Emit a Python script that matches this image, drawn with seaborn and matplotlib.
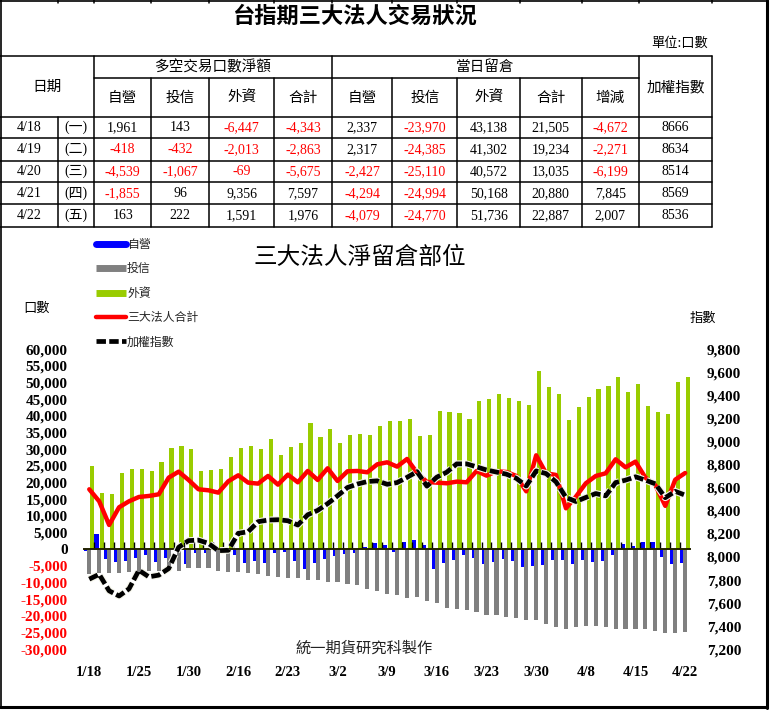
import numpy as np
import matplotlib
matplotlib.use('Agg')
import matplotlib.pyplot as plt
import matplotlib.patheffects as pe
from matplotlib.lines import Line2D
import seaborn as sns

# ---------------- table data ----------------
tbl_dates = ['4/18', '4/19', '4/20', '4/21', '4/22']
tbl_weekdays = ['(一)', '(二)', '(三)', '(四)', '(五)']
net_dealer = [1961, -418, -4539, -1855, 163]
net_trust = [143, -432, -1067, 96, 222]
net_foreign = [-6447, -2013, -69, 9356, 1591]
net_total = [-4343, -2863, -5675, 7597, 1976]
oi_dealer = [2337, 2317, -2427, -4294, -4079]
oi_trust = [-23970, -24385, -25110, -24994, -24770]
oi_foreign = [43138, 41302, 40572, 50168, 51736]
oi_total = [21505, 19234, 13035, 20880, 22887]
oi_change = [-4672, -2271, -6199, 7845, 2007]
tbl_taiex = [8666, 8634, 8514, 8569, 8536]

# ---------------- chart data (61 trading days) ----------------
x_labels = ['1/18', '1/25', '1/30', '2/16', '2/23', '3/2', '3/9', '3/16',
            '3/23', '3/30', '4/8', '4/15', '4/22']
dealer = [-500, 4700, -2900, -3800, -3500, -2700, -1700, -3800, -2600, -300,
          -4400, -1000, -1000, -700, -400, -1700, -4100, -3500, -4200, -1200,
          -900, -3500, -6000, -4200, -3000, -2000, -1500, -1200, 600, 1800,
          1400, -700, 2200, 2800, 1300, -6000, -4100, -3200, -1700, -2700,
          -4400, -3800, -2900, -3400, -5300, -5000, -4700, -3200, -3200, -4400,
          -3200, -3800, -3500, -1700, 1700, 900, 2337, 2317, -2427, -4294, -4079]
trust = [-7400, -7200, -7200, -7200, -6900, -6900, -6400, -6400, -5900, -6400,
         -5700, -5700, -5700, -6400, -6900, -6900, -7200, -7500, -7900, -8200,
         -8500, -8700, -9200, -9200, -9700, -9700, -10500, -10800, -11800, -12500,
         -13500, -13800, -14500, -14200, -15400, -16200, -17700, -18000, -18200, -18900,
         -19800, -19800, -20400, -20700, -21200, -21200, -22500, -23200, -24000, -23200,
         -22900, -22900, -23200, -24000, -24000, -24000, -23970, -24385, -25110, -24994, -24770]
foreign = [24900, 16800, 16500, 22800, 24100, 24100, 23400, 26100, 30300, 30900,
           30000, 23400, 23700, 24100, 27600, 30300, 30900, 30000, 33000, 28200,
           30600, 31800, 37800, 33600, 36000, 31800, 34200, 34500, 34200, 36900,
           38400, 38400, 39200, 33900, 34400, 41600, 41100, 40800, 39200, 44600,
           45200, 46500, 45500, 44600, 43200, 53600, 48600, 46500, 38700, 42600,
           45600, 48200, 48900, 51600, 47100, 49700, 43138, 41302, 40572, 50168, 51736]
total = [18000, 14400, 7300, 12600, 14400, 15700, 16000, 16500, 21500, 23300,
         20800, 18000, 17700, 17000, 20400, 22200, 20000, 19700, 22000, 19400,
         22400, 20100, 23500, 20800, 24300, 20500, 23400, 23500, 23100, 25500,
         26100, 24800, 27100, 23000, 20200, 20000, 19800, 20300, 20100, 23500,
         22100, 23400, 23200, 22000, 17400, 28200, 22800, 22300, 12300, 15800,
         19800, 22000, 22800, 27000, 24600, 26300, 21505, 19234, 13035, 20880, 22887]
taiex = [7808, 7850, 7707, 7662, 7724, 7885, 7828, 7843, 7900, 8084,
         8142, 8146, 8118, 8055, 8058, 8205, 8219, 8306, 8320, 8323,
         8314, 8277, 8366, 8404, 8462, 8530, 8602, 8632, 8654, 8660,
         8630, 8645, 8690, 8740, 8614, 8692, 8735, 8807, 8807, 8781,
         8754, 8736, 8718, 8682, 8615, 8746, 8723, 8651, 8516, 8481,
         8516, 8550, 8530, 8645, 8666, 8695, 8666, 8634, 8514, 8569, 8536]

series_names = ['自營', '投信', '外資', '三大法人合計', '加權指數']
c_blue, c_gray, c_green, c_red = '#0000FF', '#808080', '#99CC00', '#FF0000'

sns.set_theme(style='white')
CJK = ['Noto Sans CJK TC', 'DejaVu Sans']
plt.rcParams['font.family'] = CJK
plt.rcParams['axes.unicode_minus'] = False
SERIF = ['Liberation Serif', 'Noto Sans CJK TC']

W, H = 770, 712
fig = plt.figure(figsize=(W / 100, H / 100), dpi=100)
fig.patch.set_facecolor('white')

# overlay in pixel coordinates for frame, table and texts
ov = fig.add_axes([0, 0, 1, 1], zorder=0)
ov.set_xlim(0, W)
ov.set_ylim(H, 0)
ov.axis('off')

# outer frame
ov.plot([1, 1], [0, 708], color='black', lw=1.2)
ov.plot([0, 767], [0.8, 0.8], color='black', lw=1.2)
ov.plot([766.5, 766.5], [0, 708], color='black', lw=2.2)
ov.plot([0, 767], [707, 707], color='black', lw=2.2)

# ---------------- table ----------------
col_edges = [0, 57.5, 94.4, 151, 209, 274.3, 331.9, 392.3, 457.2, 520, 581.6, 639, 712]
row_edges = [56, 78.3, 116.7, 138.3, 160.7, 182.3, 204.3, 226.7]
lc = dict(color='black', lw=1.1)
ov.plot([0, 712], [row_edges[0]] * 2, **lc)
ov.plot([94.4, 639], [row_edges[1]] * 2, **lc)
for yy in row_edges[2:]:
    ov.plot([0, 712], [yy, yy], **lc)
for xx in col_edges[1:]:
    if xx == 57.5:
        ov.plot([xx, xx], [row_edges[2], row_edges[-1]], **lc)
    elif xx in (94.4, 331.9, 639, 712):
        ov.plot([xx, xx], [row_edges[0], row_edges[-1]], **lc)
    else:
        ov.plot([xx, xx], [row_edges[1], row_edges[-1]], **lc)
    ov.plot([xx, xx], [0, 3], **lc)

ov.text(355, 16, '台指期三大法人交易狀況', ha='center', va='center',
        fontsize=16, fontweight='bold', color='black')
ov.text(708, 43, '單位:口數', ha='right', va='center', fontsize=9.5, color='black')

hdr = dict(ha='center', va='center', fontsize=10.5, color='black')
ov.text(47.2, 87, '日期', **hdr)
ov.text(213, 67, '多空交易口數淨額', **hdr)
ov.text(485.5, 67, '當日留倉', **hdr)
ov.text(675.5, 87, '加權指數', **hdr)
sub = ['自營', '投信', '外資', '合計', '自營', '投信', '外資', '合計', '增減']
for k, s in enumerate(sub):
    cx = (col_edges[k + 2] + col_edges[k + 3]) / 2
    ov.text(cx, 98, s, **hdr)

cols = [net_dealer, net_trust, net_foreign, net_total,
        oi_dealer, oi_trust, oi_foreign, oi_total, oi_change]
for r in range(len(tbl_dates)):
    cy = (row_edges[r + 2] + row_edges[r + 3]) / 2
    ov.text(28.7, cy, tbl_dates[r], ha='center', va='center', fontsize=10,
            family=SERIF, color='black')
    ov.text(76, cy, tbl_weekdays[r], ha='center', va='center', fontsize=10,
            family=SERIF, color='black')
    for k, col in enumerate(cols):
        v = col[r]
        cx = (col_edges[k + 2] + col_edges[k + 3]) / 2
        ov.text(cx, cy, f'{v:,}', ha='center', va='center', fontsize=10,
                family=SERIF, color=c_red if v < 0 else 'black')
    ov.text(675.5, cy, str(tbl_taiex[r]), ha='center', va='center', fontsize=10,
            family=SERIF, color='black')

# ---------------- chart ----------------
ov.text(360, 258, '三大法人淨留倉部位', ha='center', va='center', fontsize=17, color='black')
ov.text(37, 308, '口數', ha='center', va='center', fontsize=9.5, color='black')
ov.text(703, 318, '指數', ha='center', va='center', fontsize=9.5, color='black')
ov.text(364, 648, '統一期貨研究科製作', ha='center', va='center', fontsize=11,
        color='#222222', fontweight='light')

ax = fig.add_axes([84.3 / W, 1 - 649.3 / H, 605.8 / W, 300 / H], zorder=2)
ax.patch.set_alpha(0)

n = len(dealer)
idx = np.arange(n)
bw = 0.42
sns.barplot(x=idx - 0.28, y=dealer, native_scale=True, width=bw, color=c_blue,
            saturation=1, errorbar=None, linewidth=0, ax=ax)
sns.barplot(x=idx + 0.0, y=trust, native_scale=True, width=bw, color=c_gray,
            saturation=1, errorbar=None, linewidth=0, ax=ax)
sns.barplot(x=idx + 0.28, y=foreign, native_scale=True, width=bw, color=c_green,
            saturation=1, errorbar=None, linewidth=0, ax=ax)
sns.lineplot(x=idx, y=total, ax=ax, color=c_red, linewidth=3.2, zorder=6)

ax.set_xlim(-0.5, n - 0.5)
ylo, yhi = -30000, 60000
ax.set_ylim(ylo, yhi)
lt = np.arange(ylo, yhi + 1, 5000)
ax.set_yticks(lt)
ax.set_yticklabels([f'{v:,}' for v in lt], family=SERIF, fontweight='bold', fontsize=11)
for lbl, v in zip(ax.get_yticklabels(), lt):
    lbl.set_color(c_red if v < 0 else 'black')
ax.set_xticks(idx[::5])
ax.set_xticklabels(x_labels, family=SERIF, fontweight='bold', fontsize=10.5, color='black')
ax.tick_params(axis='x', length=0, pad=12)
ax.tick_params(axis='y', length=0, pad=12)
for s in ax.spines.values():
    s.set_visible(False)
ax.set_xlabel('')
ax.set_ylabel('')
ax.grid(False)

# zero line with category-boundary ticks
sec = ax.secondary_xaxis((0 - ylo) / (yhi - ylo))
sec.set_xticks(idx[:-1] + 0.5)
sec.set_xticklabels([])
sec.tick_params(direction='in', length=5, width=1, color='black')
sec.spines['bottom'].set_color('#222200')
sec.spines['bottom'].set_linewidth(1.4)
sec.set_zorder(4)

ax2 = ax.twinx()
sns.lineplot(x=idx, y=taiex, ax=ax2, color='black', linewidth=3.4,
             path_effects=[pe.Stroke(linewidth=5, foreground='#f4f4e8'), pe.Normal()])
for ln in ax2.get_lines():
    ln.set_linestyle((0, (2.0, 0.7)))
ax2.set_ylim(7200, 9800)
rt = np.arange(7200, 9801, 200)
ax2.set_yticks(rt)
ax2.set_yticklabels([f'{v:,}' for v in rt], family=SERIF, fontweight='bold', fontsize=11,
                    color='black')
ax2.tick_params(axis='y', length=0, pad=12)
for s in ax2.spines.values():
    s.set_visible(False)
ax2.set_ylabel('')
ax2.grid(False)

# legend
handles = [Line2D([], [], color=c_blue, lw=5, solid_capstyle='round'),
           Line2D([], [], color=c_gray, lw=5, solid_capstyle='butt'),
           Line2D([], [], color=c_green, lw=5, solid_capstyle='butt'),
           Line2D([], [], color=c_red, lw=3.2, solid_capstyle='round'),
           Line2D([], [], color='black', lw=3.4, linestyle=(0, (2.0, 0.7)))]
fig.legend(handles, series_names, loc='upper left', bbox_to_anchor=(96 / W, 1 - 238 / H),
           frameon=False, handlelength=2.5, handletextpad=0.1, labelspacing=0.95,
           fontsize=8.6, borderpad=0, borderaxespad=0)

fig.savefig('out.png', dpi=100, facecolor='white')
